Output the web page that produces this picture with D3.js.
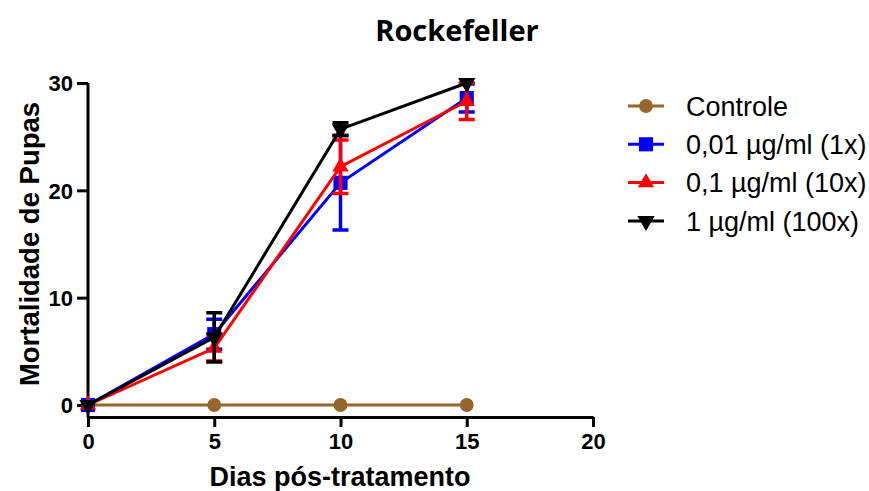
<!DOCTYPE html>
<html>
<head>
<meta charset="utf-8">
<script src="https://cdn.jsdelivr.net/npm/d3@7"></script>
<style>
  html, body { margin: 0; padding: 0; background: #fff; }
  svg { display: block; }
</style>
</head>
<body>
<svg id="chart" width="869" height="491"></svg>
<script>
// Days after treatment
const days = [0, 5, 10, 15];
const xTicks = [0, 5, 10, 15, 20];
const yTicks = [0, 10, 20, 30];

// Mean pupal mortality and error (± SD) per dose
const controleMean = [0, 0, 0, 0];
const controleErr  = [0, 0, 0, 0];
const dose001Mean  = [0, 6.6, 20.7, 28.6];
const dose001Err   = [0, 1.4, 4.4, 1.3];
const dose01Mean   = [0, 5.3, 22.2, 28.3];
const dose01Err    = [0, 1.2, 2.5, 1.7];
const dose1Mean    = [0, 6.3, 25.7, 30.0];
const dose1Err     = [0, 2.3, 0.6, 0.0];

const seriesNames = ["Controle", "0,01 µg/ml (1x)", "0,1 µg/ml (10x)", "1 µg/ml (100x)"];

const series = [
  { name: seriesNames[0], mean: controleMean, err: controleErr, color: "#98652a", symbol: d3.symbolCircle, size: 150, rot: 0 },
  { name: seriesNames[1], mean: dose001Mean,  err: dose001Err,  color: "#0000ff", symbol: d3.symbolSquare, size: 200, rot: 0 },
  { name: seriesNames[2], mean: dose01Mean,   err: dose01Err,   color: "#ff0000", symbol: d3.symbolTriangle, size: 115, rot: 0 },
  { name: seriesNames[3], mean: dose1Mean,    err: dose1Err,    color: "#000000", symbol: d3.symbolTriangle, size: 130, rot: 180 }
];

const svg = d3.select("#chart");
const font = "'Liberation Sans', Arial, sans-serif";

const x = d3.scaleLinear().domain([0, 20]).range([88, 593]);
const y = d3.scaleLinear().domain([0, 30]).range([405, 83]);

// Axes (Prism style: x axis sits slightly below the zero line)
const xAxisY = 417;
const xAxis = svg.append("g")
  .attr("transform", `translate(0,${xAxisY})`)
  .call(d3.axisBottom(x).tickValues(xTicks).tickSize(10).tickSizeOuter(0).tickPadding(6));
const yAxis = svg.append("g")
  .attr("transform", `translate(${x(0)},0)`)
  .call(d3.axisLeft(y).tickValues(yTicks).tickSize(11).tickSizeOuter(0).tickPadding(4));

[xAxis, yAxis].forEach(g => {
  g.select(".domain").attr("stroke", "#000").attr("stroke-width", 3);
  g.selectAll(".tick line").attr("stroke", "#000").attr("stroke-width", 3);
  g.selectAll(".tick text")
    .attr("fill", "#000")
    .attr("font-family", font)
    .attr("font-weight", "bold")
    .attr("font-size", 22);
});
// extend the y axis line down to the x axis
yAxis.select(".domain").attr("d", `M0,${y(30)}V${xAxisY}`);
yAxis.selectAll(".tick text").attr("dy", "0.36em");

// Axis titles
svg.append("text")
  .attr("x", 340).attr("y", 486)
  .attr("text-anchor", "middle")
  .attr("font-family", font).attr("font-weight", "bold").attr("font-size", 27)
  .text("Dias pós-tratamento");

svg.append("text")
  .attr("transform", "translate(39,244) rotate(-90)")
  .attr("text-anchor", "middle")
  .attr("font-family", font).attr("font-weight", "bold").attr("font-size", 27.5)
  .text("Mortalidade de Pupas");

// Chart title
svg.append("text")
  .attr("x", 457).attr("y", 41)
  .attr("text-anchor", "middle")
  .attr("font-family", "'Open Sans', 'Noto Sans', sans-serif").attr("font-weight", "bold").attr("font-size", 29)
  .text("Rockefeller");

const line = d3.line().x(d => x(d[0])).y(d => y(d[1]));
const capHalf = 8;

series.forEach(s => {
  const g = svg.append("g");
  const pts = days.map((d, i) => [d, s.mean[i], s.err[i]]);

  // error bars
  pts.filter(p => p[2] > 0).forEach(p => {
    const lo = y(p[1] - p[2]), hi = y(p[1] + p[2]), cx = x(p[0]);
    g.append("path")
      .attr("d", `M${cx},${lo}V${hi}M${cx - capHalf},${lo}H${cx + capHalf}M${cx - capHalf},${hi}H${cx + capHalf}`)
      .attr("stroke", s.color).attr("stroke-width", 3.5).attr("fill", "none");
  });

  g.append("path")
    .datum(pts)
    .attr("d", line)
    .attr("fill", "none")
    .attr("stroke", s.color)
    .attr("stroke-width", 3);

  g.selectAll("path.pt")
    .data(pts)
    .join("path")
    .attr("class", "pt")
    .attr("d", d3.symbol().type(s.symbol).size(s.size))
    .attr("transform", p => `translate(${x(p[0])},${y(p[1])}) rotate(${s.rot})`)
    .attr("fill", s.color);
});

// Legend
const legend = svg.append("g").attr("transform", "translate(628,106)");
series.forEach((s, i) => {
  const row = legend.append("g").attr("transform", `translate(0,${i * 38.3})`);
  row.append("line").attr("x1", 0).attr("x2", 36).attr("y1", 0).attr("y2", 0)
    .attr("stroke", s.color).attr("stroke-width", 3);
  row.append("path")
    .attr("d", d3.symbol().type(s.symbol).size(s.size))
    .attr("transform", `translate(18,0) rotate(${s.rot})`)
    .attr("fill", s.color);
  row.append("text")
    .attr("x", 58).attr("y", 0).attr("dy", "0.36em")
    .attr("font-family", font).attr("font-size", 27)
    .attr("fill", "#000")
    .text(s.name);
});
</script>
</body>
</html>
